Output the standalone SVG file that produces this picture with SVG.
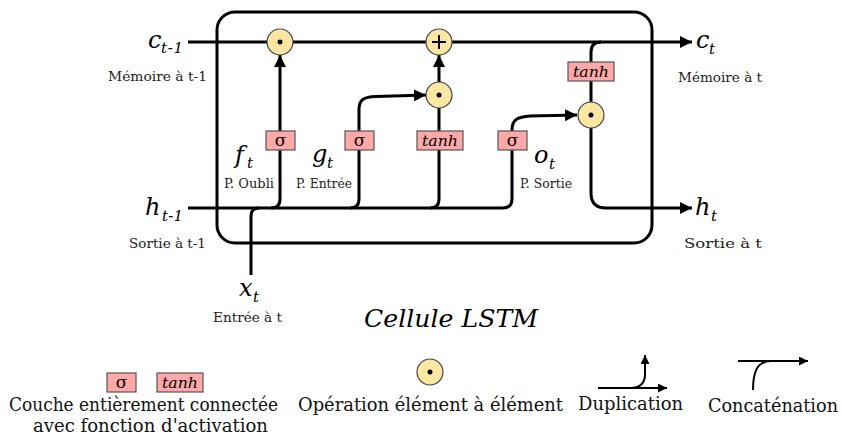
<svg xmlns="http://www.w3.org/2000/svg" width="841" height="439" viewBox="0 0 841 439">
<style>
  .w { fill: none; stroke: #000; stroke-width: 3; stroke-linecap: butt; stroke-linejoin: round; }
  .lw { fill: none; stroke: #000; stroke-width: 2; }
  .cell { fill: none; stroke: #000; stroke-width: 3; }
  .layer { fill: #ffa8a8; stroke: #555; stroke-width: 1.2; }
  .op { fill: #fbe7a3; stroke: #444; stroke-width: 1.2; }
  .dot { fill: #000; }
  text { font-family: 'DejaVu Serif', serif; }
  .m { font-style: italic; fill: #000; }
  .big { font-size: 24px; }
  .sub { font-size: 15px; }
  .lbl { font-size: 13.5px; fill: #222; }
  .leg { font-size: 18px; fill: #111; }
  .sig { font-size: 17px; text-anchor: middle; fill: #000; }
  .th { font-style: italic; font-size: 15px; text-anchor: middle; fill: #000; }
</style>
<defs>
  <marker id="ah" markerUnits="userSpaceOnUse" markerWidth="13" markerHeight="12" refX="12" refY="6" orient="auto">
    <path d="M0,0 L12,6 L0,12 z" fill="#000"/>
  </marker>
  <marker id="ahs" markerUnits="userSpaceOnUse" markerWidth="10" markerHeight="9" refX="9" refY="4.5" orient="auto">
    <path d="M0,0 L9,4.5 L0,9 z" fill="#000"/>
  </marker>
</defs>
<rect width="841" height="439" fill="#fff"/>

<g id="cell-border">
  <rect class="cell" x="217" y="12" width="435" height="231" rx="18" ry="18"/>
</g>

<g id="connectors">
  <path class="w" d="M188,42 L692,42" marker-end="url(#ah)"/>
  <path class="w" d="M188,208 L503,208 Q512,208 512,199 L512,130 C512,119 518,117 530,116 L577,115" marker-end="url(#ah)"/>
  <path class="w" d="M251,275 L251,216 Q251,208 259,208"/>
  <path class="w" d="M271,208 Q280,208 280,199 L280,55" marker-end="url(#ah)"/>
  <path class="w" d="M350,208 Q359,208 359,199 L359,110 C359,99 364,97 376,96.5 L426,95" marker-end="url(#ah)"/>
  <path class="w" d="M430,208 Q439,208 439,199 L439,108"/>
  <path class="w" d="M439,82 L439,55" marker-end="url(#ah)"/>
  <path class="w" d="M601,42 Q591,42 591,52 L591,102"/>
  <path class="w" d="M591,128 L591,193 Q591,208 606,208 L692,208" marker-end="url(#ah)"/>
</g>

<g id="forget-mult"><circle class="op" cx="280" cy="42" r="13"/><circle class="dot" cx="280" cy="42" r="2.5"/></g>
<g id="add"><circle class="op" cx="439" cy="42" r="13"/><path d="M439,35 V49 M432,42 H446" stroke="#000" stroke-width="2"/></g>
<g id="input-mult"><circle class="op" cx="439" cy="95" r="13"/><circle class="dot" cx="439" cy="95" r="2.5"/></g>
<g id="output-mult"><circle class="op" cx="591" cy="115" r="13"/><circle class="dot" cx="591" cy="115" r="2.5"/></g>

<g id="forget-sigma"><rect class="layer" x="266" y="131" width="29" height="19"/><text class="sig" x="280.5" y="146">σ</text></g>
<g id="input-sigma"><rect class="layer" x="345" y="131" width="29" height="19"/><text class="sig" x="359.5" y="146">σ</text></g>
<g id="input-tanh"><rect class="layer" x="417" y="131" width="46" height="19"/><text class="th" x="440" y="146" textLength="36" lengthAdjust="spacingAndGlyphs">tanh</text></g>
<g id="output-sigma"><rect class="layer" x="498" y="131" width="29" height="19"/><text class="sig" x="512.5" y="146">σ</text></g>
<g id="output-tanh"><rect class="layer" x="568" y="62" width="46" height="19"/><text class="th" x="591" y="77" textLength="36" lengthAdjust="spacingAndGlyphs">tanh</text></g>

<g id="label-c-prev">
  <text class="m big" x="148" y="48">c</text><text class="m sub" x="161" y="53" textLength="22" lengthAdjust="spacing">t-1</text>
  <text class="lbl" x="108" y="81" textLength="99" lengthAdjust="spacingAndGlyphs">Mémoire à t-1</text>
</g>
<g id="label-h-prev">
  <text class="m big" x="145" y="215">h</text><text class="m sub" x="162" y="221" textLength="21" lengthAdjust="spacing">t-1</text>
  <text class="lbl" x="129" y="248" textLength="77" lengthAdjust="spacingAndGlyphs">Sortie à t-1</text>
</g>
<g id="label-c">
  <text class="m big" x="696" y="48">c</text><text class="m sub" x="709" y="54">t</text>
  <text class="lbl" x="678" y="82" textLength="84" lengthAdjust="spacingAndGlyphs">Mémoire à t</text>
</g>
<g id="label-h">
  <text class="m big" x="695" y="215">h</text><text class="m sub" x="711" y="221">t</text>
  <text class="lbl" x="684" y="248" textLength="78" lengthAdjust="spacingAndGlyphs">Sortie à t</text>
</g>
<g id="label-x">
  <text class="m big" x="239" y="296">x</text><text class="m sub" x="253" y="302">t</text>
  <text class="lbl" x="213" y="322" textLength="69" lengthAdjust="spacingAndGlyphs">Entrée à t</text>
</g>
<g id="label-f">
  <text class="m big" x="235" y="163">f</text><text class="m sub" x="247" y="168">t</text>
  <text class="lbl" x="224" y="188" textLength="50" lengthAdjust="spacingAndGlyphs">P. Oubli</text>
</g>
<g id="label-g">
  <text class="m big" x="312" y="162">g</text><text class="m sub" x="327" y="168">t</text>
  <text class="lbl" x="296" y="188" textLength="56" lengthAdjust="spacingAndGlyphs">P. Entrée</text>
</g>
<g id="label-o">
  <text class="m big" x="534" y="163">o</text><text class="m sub" x="549" y="169">t</text>
  <text class="lbl" x="520" y="188" textLength="52" lengthAdjust="spacingAndGlyphs">P. Sortie</text>
</g>
<g id="title">
  <text class="m" font-size="25" x="364" y="327" textLength="174" lengthAdjust="spacingAndGlyphs">Cellule LSTM</text>
</g>

<g id="legend-layer">
  <rect class="layer" x="107" y="373" width="29" height="19"/><text class="sig" x="121.5" y="388">σ</text>
  <rect class="layer" x="157" y="373" width="46" height="19"/><text class="th" x="180" y="388" textLength="36" lengthAdjust="spacingAndGlyphs">tanh</text>
  <text class="leg" x="9" y="411" textLength="269" lengthAdjust="spacingAndGlyphs">Couche entièrement connectée</text>
  <text class="leg" x="33" y="432" textLength="235" lengthAdjust="spacingAndGlyphs">avec fonction d'activation</text>
</g>
<g id="legend-op">
  <circle class="op" cx="430" cy="372" r="13"/><circle class="dot" cx="430" cy="372" r="2.5"/>
  <text class="leg" x="298" y="411" textLength="265" lengthAdjust="spacingAndGlyphs">Opération élément à élément</text>
</g>
<g id="legend-dup">
  <path class="lw" d="M598,388 L667,388" marker-end="url(#ahs)"/>
  <path class="lw" d="M630,388 Q645,388 645,374 L645,355" marker-end="url(#ahs)"/>
  <text class="leg" x="578" y="410" textLength="105" lengthAdjust="spacingAndGlyphs">Duplication</text>
</g>
<g id="legend-concat">
  <path class="lw" d="M738,361 L808,361" marker-end="url(#ahs)"/>
  <path class="lw" d="M753,390 C753,372 757,361 771,361"/>
  <text class="leg" x="708" y="412" textLength="130" lengthAdjust="spacingAndGlyphs">Concaténation</text>
</g>
</svg>
